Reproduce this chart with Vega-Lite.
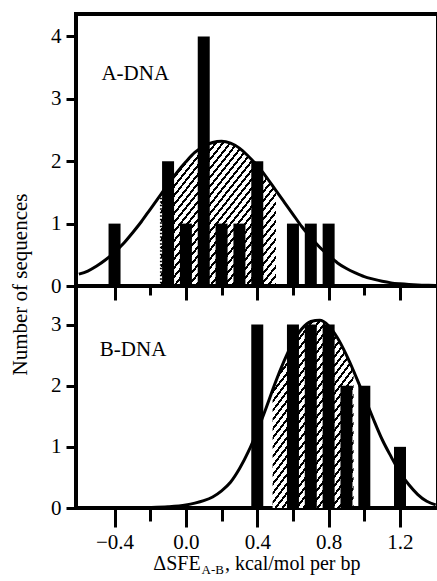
{
  "$schema": "https://vega.github.io/schema/vega-lite/v6.json",
  "padding": {"left": 7, "top": 12, "right": 0, "bottom": 0},
  "spacing": 0,
  "bounds": "flush",
  "config": {
    "view": {"stroke": "black", "strokeWidth": 4},
    "axis": {"domain": false, "grid": false, "labelFont": "Liberation Serif", "labelFontSize": 21, "labelColor": "black", "tickColor": "black", "tickWidth": 3, "titleFont": "Liberation Serif", "titleFontSize": 21, "titleFontWeight": "normal", "titleColor": "black"},
    "text": {"font": "Liberation Serif", "color": "black"}
  },
  "datasets": {
    "barsA": [{"x": -0.4, "n": 1}, {"x": -0.1, "n": 2}, {"x": 0.0, "n": 1}, {"x": 0.1, "n": 4}, {"x": 0.2, "n": 1}, {"x": 0.3, "n": 1}, {"x": 0.4, "n": 2}, {"x": 0.6, "n": 1}, {"x": 0.7, "n": 1}, {"x": 0.8, "n": 1}],
    "barsB": [{"x": 0.4, "n": 3}, {"x": 0.6, "n": 3}, {"x": 0.7, "n": 3}, {"x": 0.8, "n": 3}, {"x": 0.9, "n": 2}, {"x": 1.0, "n": 2}, {"x": 1.2, "n": 1}],
    "curveA": [
      {"x": -0.6, "y": 0.19}, {"x": -0.55, "y": 0.24}, {"x": -0.5, "y": 0.32}, {"x": -0.45, "y": 0.42}, {"x": -0.4, "y": 0.54}, {"x": -0.35, "y": 0.68}, {"x": -0.3, "y": 0.85}, {"x": -0.25, "y": 1.03}, {"x": -0.2, "y": 1.23}, {"x": -0.15, "y": 1.43}, {"x": -0.14, "y": 1.47}, {"x": -0.1, "y": 1.63}, {"x": -0.05, "y": 1.82}, {"x": 0.0, "y": 1.99}, {"x": 0.05, "y": 2.14}, {"x": 0.1, "y": 2.24}, {"x": 0.15, "y": 2.3}, {"x": 0.2, "y": 2.32}, {"x": 0.25, "y": 2.29}, {"x": 0.3, "y": 2.21}, {"x": 0.35, "y": 2.08}, {"x": 0.4, "y": 1.93}, {"x": 0.45, "y": 1.75}, {"x": 0.5, "y": 1.55}, {"x": 0.505, "y": 1.53}, {"x": 0.55, "y": 1.35}, {"x": 0.6, "y": 1.15}, {"x": 0.65, "y": 0.95}, {"x": 0.7, "y": 0.78}, {"x": 0.75, "y": 0.62}, {"x": 0.8, "y": 0.49}, {"x": 0.85, "y": 0.37}, {"x": 0.9, "y": 0.28}, {"x": 0.95, "y": 0.21}, {"x": 1.0, "y": 0.15}, {"x": 1.05, "y": 0.11}, {"x": 1.1, "y": 0.075}, {"x": 1.15, "y": 0.05}, {"x": 1.2, "y": 0.035}, {"x": 1.25, "y": 0.024}, {"x": 1.3, "y": 0.016}, {"x": 1.35, "y": 0.011}, {"x": 1.4, "y": 0.008}
    ],
    "curveB": [
      {"x": -0.6, "y": 0.0}, {"x": -0.5, "y": 0.001}, {"x": -0.4, "y": 0.002}, {"x": -0.3, "y": 0.004}, {"x": -0.2, "y": 0.008}, {"x": -0.1, "y": 0.02}, {"x": 0.0, "y": 0.05}, {"x": 0.05, "y": 0.08}, {"x": 0.1, "y": 0.12}, {"x": 0.15, "y": 0.18}, {"x": 0.2, "y": 0.28}, {"x": 0.25, "y": 0.42}, {"x": 0.3, "y": 0.64}, {"x": 0.35, "y": 0.92}, {"x": 0.4, "y": 1.26}, {"x": 0.45, "y": 1.64}, {"x": 0.486, "y": 1.93}, {"x": 0.5, "y": 2.04}, {"x": 0.55, "y": 2.4}, {"x": 0.6, "y": 2.71}, {"x": 0.65, "y": 2.93}, {"x": 0.7, "y": 3.05}, {"x": 0.75, "y": 3.07}, {"x": 0.8, "y": 2.98}, {"x": 0.85, "y": 2.78}, {"x": 0.9, "y": 2.5}, {"x": 0.94, "y": 2.24}, {"x": 0.95, "y": 2.17}, {"x": 1.0, "y": 1.82}, {"x": 1.05, "y": 1.46}, {"x": 1.1, "y": 1.12}, {"x": 1.15, "y": 0.84}, {"x": 1.2, "y": 0.58}, {"x": 1.25, "y": 0.38}, {"x": 1.3, "y": 0.22}, {"x": 1.35, "y": 0.11}, {"x": 1.4, "y": 0.05}
    ]
  },
  "vconcat": [
    {
      "width": 362,
      "height": 272,
      "layer": [
        {
          "data": {"name": "curveA"},
          "transform": [{"filter": "datum.x >= -0.1401 && datum.x <= 0.5051"}],
          "mark": {"type": "area", "interpolate": "monotone", "opacity": 1, "fill": {"gradient": "linear", "x1": 0, "y1": 0, "x2": 1, "y2": 1, "stops": [
            {"offset": 0, "color": "#fff"},
            {"offset": 0.02, "color": "#fff"}, {"offset": 0.02, "color": "#000"}, {"offset": 0.03125, "color": "#000"}, {"offset": 0.03125, "color": "#fff"},
            {"offset": 0.05125, "color": "#fff"}, {"offset": 0.05125, "color": "#000"}, {"offset": 0.0625, "color": "#000"}, {"offset": 0.0625, "color": "#fff"},
            {"offset": 0.0825, "color": "#fff"}, {"offset": 0.0825, "color": "#000"}, {"offset": 0.09375, "color": "#000"}, {"offset": 0.09375, "color": "#fff"},
            {"offset": 0.11375, "color": "#fff"}, {"offset": 0.11375, "color": "#000"}, {"offset": 0.125, "color": "#000"}, {"offset": 0.125, "color": "#fff"},
            {"offset": 0.145, "color": "#fff"}, {"offset": 0.145, "color": "#000"}, {"offset": 0.15625, "color": "#000"}, {"offset": 0.15625, "color": "#fff"},
            {"offset": 0.17625, "color": "#fff"}, {"offset": 0.17625, "color": "#000"}, {"offset": 0.1875, "color": "#000"}, {"offset": 0.1875, "color": "#fff"},
            {"offset": 0.2075, "color": "#fff"}, {"offset": 0.2075, "color": "#000"}, {"offset": 0.21875, "color": "#000"}, {"offset": 0.21875, "color": "#fff"},
            {"offset": 0.23875, "color": "#fff"}, {"offset": 0.23875, "color": "#000"}, {"offset": 0.25, "color": "#000"}, {"offset": 0.25, "color": "#fff"},
            {"offset": 0.27, "color": "#fff"}, {"offset": 0.27, "color": "#000"}, {"offset": 0.28125, "color": "#000"}, {"offset": 0.28125, "color": "#fff"},
            {"offset": 0.30125, "color": "#fff"}, {"offset": 0.30125, "color": "#000"}, {"offset": 0.3125, "color": "#000"}, {"offset": 0.3125, "color": "#fff"},
            {"offset": 0.3325, "color": "#fff"}, {"offset": 0.3325, "color": "#000"}, {"offset": 0.34375, "color": "#000"}, {"offset": 0.34375, "color": "#fff"},
            {"offset": 0.36375, "color": "#fff"}, {"offset": 0.36375, "color": "#000"}, {"offset": 0.375, "color": "#000"}, {"offset": 0.375, "color": "#fff"},
            {"offset": 0.395, "color": "#fff"}, {"offset": 0.395, "color": "#000"}, {"offset": 0.40625, "color": "#000"}, {"offset": 0.40625, "color": "#fff"},
            {"offset": 0.42625, "color": "#fff"}, {"offset": 0.42625, "color": "#000"}, {"offset": 0.4375, "color": "#000"}, {"offset": 0.4375, "color": "#fff"},
            {"offset": 0.4575, "color": "#fff"}, {"offset": 0.4575, "color": "#000"}, {"offset": 0.46875, "color": "#000"}, {"offset": 0.46875, "color": "#fff"},
            {"offset": 0.48875, "color": "#fff"}, {"offset": 0.48875, "color": "#000"}, {"offset": 0.5, "color": "#000"}, {"offset": 0.5, "color": "#fff"},
            {"offset": 0.52, "color": "#fff"}, {"offset": 0.52, "color": "#000"}, {"offset": 0.53125, "color": "#000"}, {"offset": 0.53125, "color": "#fff"},
            {"offset": 0.55125, "color": "#fff"}, {"offset": 0.55125, "color": "#000"}, {"offset": 0.5625, "color": "#000"}, {"offset": 0.5625, "color": "#fff"},
            {"offset": 0.5825, "color": "#fff"}, {"offset": 0.5825, "color": "#000"}, {"offset": 0.59375, "color": "#000"}, {"offset": 0.59375, "color": "#fff"},
            {"offset": 0.61375, "color": "#fff"}, {"offset": 0.61375, "color": "#000"}, {"offset": 0.625, "color": "#000"}, {"offset": 0.625, "color": "#fff"},
            {"offset": 0.645, "color": "#fff"}, {"offset": 0.645, "color": "#000"}, {"offset": 0.65625, "color": "#000"}, {"offset": 0.65625, "color": "#fff"},
            {"offset": 0.67625, "color": "#fff"}, {"offset": 0.67625, "color": "#000"}, {"offset": 0.6875, "color": "#000"}, {"offset": 0.6875, "color": "#fff"},
            {"offset": 0.7075, "color": "#fff"}, {"offset": 0.7075, "color": "#000"}, {"offset": 0.71875, "color": "#000"}, {"offset": 0.71875, "color": "#fff"},
            {"offset": 0.73875, "color": "#fff"}, {"offset": 0.73875, "color": "#000"}, {"offset": 0.75, "color": "#000"}, {"offset": 0.75, "color": "#fff"},
            {"offset": 0.77, "color": "#fff"}, {"offset": 0.77, "color": "#000"}, {"offset": 0.78125, "color": "#000"}, {"offset": 0.78125, "color": "#fff"},
            {"offset": 0.80125, "color": "#fff"}, {"offset": 0.80125, "color": "#000"}, {"offset": 0.8125, "color": "#000"}, {"offset": 0.8125, "color": "#fff"},
            {"offset": 0.8325, "color": "#fff"}, {"offset": 0.8325, "color": "#000"}, {"offset": 0.84375, "color": "#000"}, {"offset": 0.84375, "color": "#fff"},
            {"offset": 0.86375, "color": "#fff"}, {"offset": 0.86375, "color": "#000"}, {"offset": 0.875, "color": "#000"}, {"offset": 0.875, "color": "#fff"},
            {"offset": 0.895, "color": "#fff"}, {"offset": 0.895, "color": "#000"}, {"offset": 0.90625, "color": "#000"}, {"offset": 0.90625, "color": "#fff"},
            {"offset": 0.92625, "color": "#fff"}, {"offset": 0.92625, "color": "#000"}, {"offset": 0.9375, "color": "#000"}, {"offset": 0.9375, "color": "#fff"},
            {"offset": 0.9575, "color": "#fff"}, {"offset": 0.9575, "color": "#000"}, {"offset": 0.96875, "color": "#000"}, {"offset": 0.96875, "color": "#fff"},
            {"offset": 0.98875, "color": "#fff"}, {"offset": 0.98875, "color": "#000"}, {"offset": 1, "color": "#000"}
          ]}},
          "encoding": {
            "x": {"field": "x", "type": "quantitative", "scale": {"domain": [-0.588, 1.385], "nice": false, "zero": false},
              "axis": {"values": [-0.4, -0.2, 0, 0.2, 0.4, 0.6, 0.8, 1.0, 1.2], "labels": false, "title": null,
                "tickSize": {"condition": {"test": "round(datum.value*10) % 4 == 0", "value": 14}, "value": 9}}},
            "y": {"field": "y", "type": "quantitative", "scale": {"domain": [0, 4.36], "nice": false},
              "axis": {"values": [0, 1, 2, 3, 4], "format": "d", "tickSize": 10, "labelPadding": 5, "title": "Number of sequences", "titleX": -56, "titleY": 270, "titleAngle": -90, "titleAlign": "center", "titleBaseline": "middle"}}
          }
        },
        {
          "data": {"name": "curveA"},
          "transform": [{"filter": "datum.x == -0.14"}],
          "mark": {"type": "rule", "color": "black", "strokeWidth": 2, "strokeDash": [1.5, 2]},
          "encoding": {"x": {"field": "x", "type": "quantitative"}, "y": {"field": "y", "type": "quantitative"}, "y2": {"datum": 0}}
        },
        {
          "data": {"name": "barsA"},
          "mark": {"type": "bar", "size": 12, "color": "black", "opacity": 1},
          "encoding": {"x": {"field": "x", "type": "quantitative"}, "y": {"field": "n", "type": "quantitative"}}
        },
        {
          "data": {"name": "curveA"},
          "mark": {"type": "line", "interpolate": "monotone", "color": "black", "strokeWidth": 3, "clip": true},
          "encoding": {"x": {"field": "x", "type": "quantitative"}, "y": {"field": "y", "type": "quantitative"}}
        },
        {
          "data": {"values": [{"label": "A-DNA"}]},
          "mark": {"type": "text", "fontSize": 21, "align": "center", "baseline": "middle"},
          "encoding": {"x": {"datum": -0.284, "type": "quantitative"}, "y": {"datum": 3.4, "type": "quantitative"}, "text": {"field": "label"}}
        }
      ]
    },
    {
      "width": 362,
      "height": 222,
      "layer": [
        {
          "data": {"name": "curveB"},
          "transform": [{"filter": "datum.x >= 0.4859 && datum.x <= 0.9401"}],
          "mark": {"type": "area", "interpolate": "monotone", "opacity": 1, "fill": {"gradient": "linear", "x1": 0, "y1": 0, "x2": 0.6746, "y2": 1.185, "stops": [
            {"offset": 0, "color": "#fff"},
            {"offset": 0.02, "color": "#fff"}, {"offset": 0.02, "color": "#000"}, {"offset": 0.03125, "color": "#000"}, {"offset": 0.03125, "color": "#fff"},
            {"offset": 0.05125, "color": "#fff"}, {"offset": 0.05125, "color": "#000"}, {"offset": 0.0625, "color": "#000"}, {"offset": 0.0625, "color": "#fff"},
            {"offset": 0.0825, "color": "#fff"}, {"offset": 0.0825, "color": "#000"}, {"offset": 0.09375, "color": "#000"}, {"offset": 0.09375, "color": "#fff"},
            {"offset": 0.11375, "color": "#fff"}, {"offset": 0.11375, "color": "#000"}, {"offset": 0.125, "color": "#000"}, {"offset": 0.125, "color": "#fff"},
            {"offset": 0.145, "color": "#fff"}, {"offset": 0.145, "color": "#000"}, {"offset": 0.15625, "color": "#000"}, {"offset": 0.15625, "color": "#fff"},
            {"offset": 0.17625, "color": "#fff"}, {"offset": 0.17625, "color": "#000"}, {"offset": 0.1875, "color": "#000"}, {"offset": 0.1875, "color": "#fff"},
            {"offset": 0.2075, "color": "#fff"}, {"offset": 0.2075, "color": "#000"}, {"offset": 0.21875, "color": "#000"}, {"offset": 0.21875, "color": "#fff"},
            {"offset": 0.23875, "color": "#fff"}, {"offset": 0.23875, "color": "#000"}, {"offset": 0.25, "color": "#000"}, {"offset": 0.25, "color": "#fff"},
            {"offset": 0.27, "color": "#fff"}, {"offset": 0.27, "color": "#000"}, {"offset": 0.28125, "color": "#000"}, {"offset": 0.28125, "color": "#fff"},
            {"offset": 0.30125, "color": "#fff"}, {"offset": 0.30125, "color": "#000"}, {"offset": 0.3125, "color": "#000"}, {"offset": 0.3125, "color": "#fff"},
            {"offset": 0.3325, "color": "#fff"}, {"offset": 0.3325, "color": "#000"}, {"offset": 0.34375, "color": "#000"}, {"offset": 0.34375, "color": "#fff"},
            {"offset": 0.36375, "color": "#fff"}, {"offset": 0.36375, "color": "#000"}, {"offset": 0.375, "color": "#000"}, {"offset": 0.375, "color": "#fff"},
            {"offset": 0.395, "color": "#fff"}, {"offset": 0.395, "color": "#000"}, {"offset": 0.40625, "color": "#000"}, {"offset": 0.40625, "color": "#fff"},
            {"offset": 0.42625, "color": "#fff"}, {"offset": 0.42625, "color": "#000"}, {"offset": 0.4375, "color": "#000"}, {"offset": 0.4375, "color": "#fff"},
            {"offset": 0.4575, "color": "#fff"}, {"offset": 0.4575, "color": "#000"}, {"offset": 0.46875, "color": "#000"}, {"offset": 0.46875, "color": "#fff"},
            {"offset": 0.48875, "color": "#fff"}, {"offset": 0.48875, "color": "#000"}, {"offset": 0.5, "color": "#000"}, {"offset": 0.5, "color": "#fff"},
            {"offset": 0.52, "color": "#fff"}, {"offset": 0.52, "color": "#000"}, {"offset": 0.53125, "color": "#000"}, {"offset": 0.53125, "color": "#fff"},
            {"offset": 0.55125, "color": "#fff"}, {"offset": 0.55125, "color": "#000"}, {"offset": 0.5625, "color": "#000"}, {"offset": 0.5625, "color": "#fff"},
            {"offset": 0.5825, "color": "#fff"}, {"offset": 0.5825, "color": "#000"}, {"offset": 0.59375, "color": "#000"}, {"offset": 0.59375, "color": "#fff"},
            {"offset": 0.61375, "color": "#fff"}, {"offset": 0.61375, "color": "#000"}, {"offset": 0.625, "color": "#000"}, {"offset": 0.625, "color": "#fff"},
            {"offset": 0.645, "color": "#fff"}, {"offset": 0.645, "color": "#000"}, {"offset": 0.65625, "color": "#000"}, {"offset": 0.65625, "color": "#fff"},
            {"offset": 0.67625, "color": "#fff"}, {"offset": 0.67625, "color": "#000"}, {"offset": 0.6875, "color": "#000"}, {"offset": 0.6875, "color": "#fff"},
            {"offset": 0.7075, "color": "#fff"}, {"offset": 0.7075, "color": "#000"}, {"offset": 0.71875, "color": "#000"}, {"offset": 0.71875, "color": "#fff"},
            {"offset": 0.73875, "color": "#fff"}, {"offset": 0.73875, "color": "#000"}, {"offset": 0.75, "color": "#000"}, {"offset": 0.75, "color": "#fff"},
            {"offset": 0.77, "color": "#fff"}, {"offset": 0.77, "color": "#000"}, {"offset": 0.78125, "color": "#000"}, {"offset": 0.78125, "color": "#fff"},
            {"offset": 0.80125, "color": "#fff"}, {"offset": 0.80125, "color": "#000"}, {"offset": 0.8125, "color": "#000"}, {"offset": 0.8125, "color": "#fff"},
            {"offset": 0.8325, "color": "#fff"}, {"offset": 0.8325, "color": "#000"}, {"offset": 0.84375, "color": "#000"}, {"offset": 0.84375, "color": "#fff"},
            {"offset": 0.86375, "color": "#fff"}, {"offset": 0.86375, "color": "#000"}, {"offset": 0.875, "color": "#000"}, {"offset": 0.875, "color": "#fff"},
            {"offset": 0.895, "color": "#fff"}, {"offset": 0.895, "color": "#000"}, {"offset": 0.90625, "color": "#000"}, {"offset": 0.90625, "color": "#fff"},
            {"offset": 0.92625, "color": "#fff"}, {"offset": 0.92625, "color": "#000"}, {"offset": 0.9375, "color": "#000"}, {"offset": 0.9375, "color": "#fff"},
            {"offset": 0.9575, "color": "#fff"}, {"offset": 0.9575, "color": "#000"}, {"offset": 0.96875, "color": "#000"}, {"offset": 0.96875, "color": "#fff"},
            {"offset": 0.98875, "color": "#fff"}, {"offset": 0.98875, "color": "#000"}, {"offset": 1, "color": "#000"}
          ]}},
          "encoding": {
            "x": {"field": "x", "type": "quantitative", "scale": {"domain": [-0.588, 1.385], "nice": false, "zero": false},
              "axis": {"values": [-0.4, -0.2, 0, 0.2, 0.4, 0.6, 0.8, 1.0, 1.2], "format": ".1f",
                "labelExpr": "round(datum.value*10) % 4 == 0 ? datum.label : ''",
                "tickSize": {"condition": {"test": "round(datum.value*10) % 4 == 0", "value": 19}, "value": 13},
                "labelPadding": 4,
                "title": null}},
            "y": {"field": "y", "type": "quantitative", "scale": {"domain": [0, 3.63], "nice": false},
              "axis": {"values": [0, 1, 2, 3], "format": "d", "tickSize": 10, "labelPadding": 5, "title": null}}
          }
        },
        {
          "data": {"name": "barsB"},
          "mark": {"type": "bar", "size": 12, "color": "black", "opacity": 1},
          "encoding": {"x": {"field": "x", "type": "quantitative"}, "y": {"field": "n", "type": "quantitative"}}
        },
        {
          "data": {"name": "curveB"},
          "mark": {"type": "line", "interpolate": "monotone", "color": "black", "strokeWidth": 3, "clip": true},
          "encoding": {"x": {"field": "x", "type": "quantitative"}, "y": {"field": "y", "type": "quantitative"}}
        },
        {
          "data": {"values": [{"label": "B-DNA"}]},
          "mark": {"type": "text", "fontSize": 21, "align": "center", "baseline": "middle"},
          "encoding": {"x": {"datum": -0.296, "type": "quantitative"}, "y": {"datum": 2.58, "type": "quantitative"}, "text": {"field": "label"}}
        },
        {
          "data": {"values": [{"label": "ΔSFE"}]},
          "mark": {"type": "text", "fontSize": 20, "align": "right", "baseline": "alphabetic"},
          "encoding": {"x": {"datum": 0.0827, "type": "quantitative"}, "y": {"datum": -1.013, "type": "quantitative"}, "text": {"field": "label"}}
        },
        {
          "data": {"values": [{"label": "A-B"}]},
          "mark": {"type": "text", "fontSize": 13, "align": "left", "baseline": "alphabetic"},
          "encoding": {"x": {"datum": 0.088, "type": "quantitative"}, "y": {"datum": -1.078, "type": "quantitative"}, "text": {"field": "label"}}
        },
        {
          "data": {"values": [{"label": ", kcal/mol per bp"}]},
          "mark": {"type": "text", "fontSize": 20, "align": "left", "baseline": "alphabetic"},
          "encoding": {"x": {"datum": 0.219, "type": "quantitative"}, "y": {"datum": -1.013, "type": "quantitative"}, "text": {"field": "label"}}
        }
      ]
    }
  ]
}
